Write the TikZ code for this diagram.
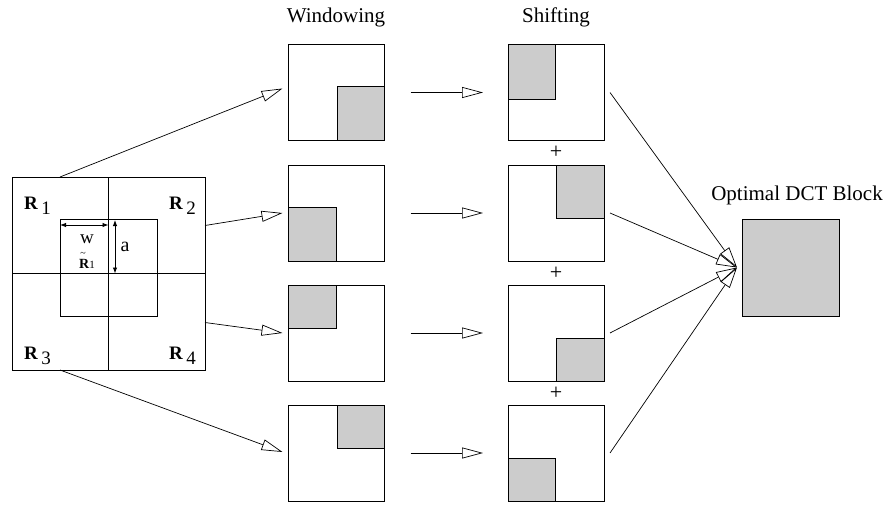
\documentclass[tikz,border=0pt]{standalone}
\usepackage{fontspec}
\setmainfont{Liberation Serif}
\usetikzlibrary{arrows.meta,calc}
\definecolor{shade}{gray}{0.8}
\begin{document}
\begin{tikzpicture}[x=1pt,y=-1pt,
  frame/.style={draw,line width=0.85pt,minimum width=96pt,minimum height=96pt,inner sep=0pt,outer sep=0pt},
  patch/.style={draw,line width=0.85pt,fill=shade},
  flow/.style={line width=0.7pt,-{Triangle[open,length=21pt,width=11pt,line width=0.7pt]}},
  dim/.style={line width=0.9pt,{Latex[length=6pt,width=4.5pt]}-{Latex[length=6pt,width=4.5pt]}},
  title/.style={font=\fontsize{21}{24}\selectfont,inner sep=0pt},
  region/.style={font=\fontsize{19}{22}\selectfont,inner sep=0pt,anchor=base west},
  plus/.style={font=\fontsize{22}{24}\selectfont,inner sep=0pt}]
\useasboundingbox (0,0) rectangle (890,511);

% ---- source block with its four regions and the window ----
\node[frame,minimum width=193pt,minimum height=193pt] (src) at (108.5,273.5) {};
\draw[line width=0.85pt] (src.north) -- (src.south);
\draw[line width=0.85pt] (src.west) -- (src.east);
\node[frame,minimum width=97pt,minimum height=97pt] (win) at (108.5,267.5) {};

\node[region] (r1) at (24,209) {\textbf{R}\,\raisebox{-5pt}{1}};
\node[region] (r2) at (169,209) {\textbf{R}\,\raisebox{-5pt}{2}};
\node[region] (r3) at (24,359) {\textbf{R}\,\raisebox{-5pt}{3}};
\node[region] (r4) at (169,359) {\textbf{R}\,\raisebox{-5pt}{4}};

\coordinate (wl) at ($(win.north west)+(0,6)$);
\coordinate (wr) at ($(src.center|-wl)$);
\draw[dim] (wl) -- (wr);
\coordinate (at) at ($(win.north)+(6.5,1)$);
\coordinate (ab) at ($(src.center)+(6.5,0)$);
\draw[dim] (at) -- (ab);
\node[font=\fontsize{19}{20}\selectfont,inner sep=0pt,anchor=base] (wlab) at (87,243) {w};
\node[font=\fontsize{20}{20}\selectfont,inner sep=0pt,anchor=base] (alab) at (125,251) {a};
\node[font=\fontsize{14}{16}\selectfont,inner sep=0pt,anchor=base] (rt) at (87,268) {\textbf{R}{\fontsize{11}{12}\selectfont 1}};
\node[font=\fontsize{10}{10}\selectfont,inner sep=0pt,anchor=base] (tl) at (83,256) {\textasciitilde};

% ---- windowing column ----
\foreach \i/\y in {1/92.5,2/213,3/333,4/453}
  \node[frame] (w\i) at (336.5,\y) {};
\filldraw[patch] (w1.south east) rectangle ++(-47,-54);
\filldraw[patch] (w2.south west) rectangle ++(48,-54);
\filldraw[patch] (w3.north west) rectangle ++(48,43);
\filldraw[patch] (w4.north east) rectangle ++(-47,43);
\foreach \i in {1,...,4} \node[frame] at (w\i) {};

% ---- shifting column ----
\foreach \i/\y in {1/92.5,2/213,3/333,4/453}
  \node[frame] (s\i) at (556,\y) {};
\filldraw[patch] (s1.north west) rectangle ++(47,55);
\filldraw[patch] (s2.north east) rectangle ++(-48,53);
\filldraw[patch] (s3.south east) rectangle ++(-48,-43);
\filldraw[patch] (s4.south west) rectangle ++(47,-43);
\foreach \i in {1,...,4} \node[frame] at (s\i) {};

\node[plus] (p1) at ($(s1.south)!0.5!(s2.north)$) {+};
\node[plus] (p2) at ($(s2.south)!0.5!(s3.north)$) {+};
\node[plus] (p3) at ($(s3.south)!0.5!(s4.north)$) {+};

% ---- result block ----
\node[frame,fill=shade,minimum width=97pt,minimum height=97pt] (dct) at (790.5,267.5) {};
\coordinate (join) at ($(dct.west)+(-5,0)$);

% ---- titles ----
\node[title] (t1) at (336,17) {Windowing};
\node[title] (t2) at (556,17) {Shifting};
\node[title] (t3) at (797,195) {Optimal DCT Block};

% ---- connectors ----
\draw[flow] (win.west|-src.north) -- ($(w1.west)+(-6,-4)$);
\draw[flow] ($(src.east)+(0,-48)$) -- ($(w2.west)+(-6,0)$);
\draw[flow] ($(src.east)+(0,49)$) -- ($(w3.west)+(-6,0)$);
\draw[flow] (win.west|-src.south) -- ($(w4.west)+(-6,-1)$);

\foreach \i in {1,...,4}
  \draw[flow] ($(w\i.east)+(26,0)$) -- ($(s\i.west)+(-25,0)$);

\foreach \i in {1,...,4}
  \draw[flow] ($(s\i.east)+(6,0)$) -- (join);
\end{tikzpicture}
\end{document}
